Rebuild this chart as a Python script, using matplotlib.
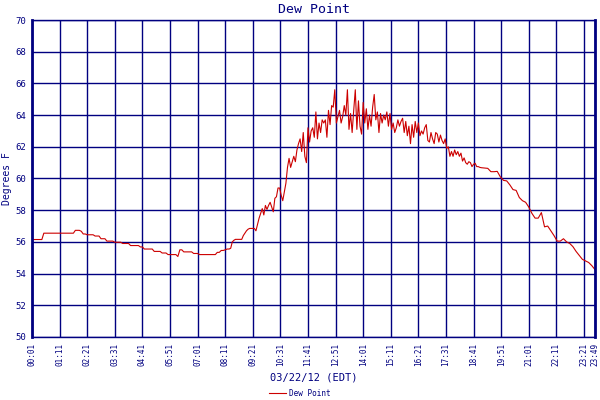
import numpy as np
import matplotlib
matplotlib.use("Agg")
import matplotlib.pyplot as plt

# dew point readings, minutes after 00:01
early_step = 5
early_vals = [
    56.15, 56.15, 56.15, 56.15, 56.15, 56.15, 56.55, 56.55, 56.55, 56.55, 56.55, 56.55,
    56.55, 56.55, 56.55, 56.55, 56.55, 56.55, 56.55, 56.55, 56.55, 56.55, 56.73, 56.73,
    56.73, 56.67, 56.5, 56.5, 56.45, 56.45, 56.45, 56.45, 56.37, 56.37, 56.37, 56.2,
    56.2, 56.2, 56.05, 56.05, 56.05, 56.05, 55.98, 55.98, 55.98, 55.98, 55.9, 55.9,
    55.9, 55.9, 55.77, 55.77, 55.77, 55.77, 55.77, 55.68, 55.68, 55.55, 55.55, 55.55,
    55.55, 55.55, 55.4, 55.4, 55.4, 55.4, 55.3, 55.3, 55.3, 55.2, 55.2, 55.2,
    55.2, 55.2, 55.08, 55.5, 55.5, 55.37, 55.37, 55.37, 55.37, 55.37, 55.27, 55.27,
    55.27, 55.2, 55.2, 55.2, 55.2, 55.2, 55.2, 55.2, 55.2, 55.2, 55.34, 55.34,
    55.46, 55.46, 55.5, 55.55,
]

mid_start = 500
mid_step = 4
mid_vals = [
    55.55, 55.6, 56.0, 56.1, 56.16, 56.16, 56.16, 56.16, 56.16, 56.4,
    56.55, 56.7, 56.8, 56.85, 56.85, 56.85, 56.85, 56.7, 57.1, 57.5,
    57.8, 58.1, 57.7, 58.3, 58.05, 58.3, 58.5, 58.2, 57.9, 58.75,
    58.85, 59.4, 59.4, 58.95, 58.6, 59.16, 59.7, 60.7, 61.27, 60.7,
    61.06, 61.4, 61.06, 61.8, 62.2, 62.5, 61.7, 62.9, 61.4, 61.0,
    63.2, 62.3, 63.0, 63.2, 62.6, 64.2, 62.5, 63.5, 62.9, 63.7,
    63.5, 63.7, 62.6, 64.3, 63.4, 64.6, 64.5, 65.6, 63.5, 63.9,
    64.3, 63.5, 63.9, 64.6, 64.0, 65.6, 63.1, 64.1, 62.9, 64.3,
    65.6, 63.1, 64.9, 63.3, 62.8, 64.8, 63.5, 64.4, 63.1, 64.0,
    63.3, 64.5, 65.3, 63.7, 64.2, 62.9, 64.1, 63.5, 64.0, 63.7,
    64.2, 63.3, 64.1, 63.1, 63.5, 62.9, 63.2, 63.7, 63.3, 63.6,
    63.8, 62.9, 63.6, 62.7, 63.3, 62.2, 63.4, 62.6, 63.6, 62.9,
    63.5, 62.7, 63.0, 62.8, 63.2, 63.4, 62.4, 62.3, 62.9, 62.5,
    62.2, 62.9, 62.8, 62.3, 62.74, 62.4, 62.2, 62.5, 61.9, 62.0,
    61.4, 61.7, 61.4, 61.8, 61.5, 61.7, 61.4, 61.6, 61.1, 61.3,
    61.0, 60.9, 61.06, 61.0, 60.75, 60.9, 60.96, 60.75, 60.75, 60.7,
    60.68,
]

late_start = 1148
late_step = 8
late_vals = [
    60.66, 60.64, 60.43, 60.43, 60.45, 60.1, 59.88, 59.85, 59.6, 59.3,
    59.25, 58.8, 58.6, 58.5, 58.2, 57.8, 57.5, 57.5, 57.85, 56.95,
    57.0, 56.7, 56.4, 56.05, 56.05, 56.2, 56.0, 55.9, 55.7, 55.4,
    55.15, 54.9, 54.8, 54.7, 54.5, 54.25,
]

tick_minutes = list(range(0, 1401, 70)) + [1428]
tick_labels = ["00:01", "01:11", "02:21", "03:31", "04:41", "05:51", "07:01",
               "08:11", "09:21", "10:31", "11:41", "12:51", "14:01", "15:11",
               "16:21", "17:31", "18:41", "19:51", "21:01", "22:11", "23:21",
               "23:49"]

t = np.concatenate([
    np.arange(len(early_vals)) * early_step,
    mid_start + np.arange(len(mid_vals)) * mid_step,
    late_start + np.arange(len(late_vals)) * late_step,
])
dew = np.concatenate([early_vals, mid_vals, late_vals])

navy = "#000080"
mono = "DejaVu Sans Mono"

fig = plt.figure(figsize=(6, 4), dpi=100)
# right edge pulled in a few pixels so the 23:49 label is not clipped
ax = fig.add_axes([32 / 600, 63 / 400, 563 / 600, 317 / 400])

ax.plot(t, dew, color="#cc0000", lw=0.8, label="Dew Point")

ax.set_xlim(0, 1428)
ax.set_ylim(50, 70)
ax.set_yticks(np.arange(50, 71, 2))
ax.set_xticks(tick_minutes)
ax.set_xticklabels(tick_labels, rotation=90, fontsize=5.5, family=mono, color=navy)
for lab in ax.get_yticklabels():
    lab.set_fontsize(6.5)
    lab.set_family(mono)
    lab.set_color(navy)
ax.tick_params(length=0, pad=4)
ax.grid(True, color=navy, lw=1.0)
ax.set_axisbelow(True)
for side in ["left", "right"]:
    ax.spines[side].set_color(navy)
    ax.spines[side].set_linewidth(2.0)
for side in ["top", "bottom"]:
    ax.spines[side].set_color(navy)
    ax.spines[side].set_linewidth(1.0)

ax.set_title("Dew Point", fontsize=9.5, family=mono, color=navy, pad=5)
ax.set_ylabel("Degrees F", fontsize=7, family=mono, color=navy, labelpad=3)
ax.set_xlabel("03/22/12 (EDT)", fontsize=7.5, family=mono, color=navy, labelpad=5)

fig.legend(loc="lower center", bbox_to_anchor=(0.5, -0.012), frameon=False,
           prop={"family": mono, "size": 5.5}, labelcolor=navy,
           handlelength=2.2, handletextpad=0.4)

fig.savefig("out.png", dpi=100)
